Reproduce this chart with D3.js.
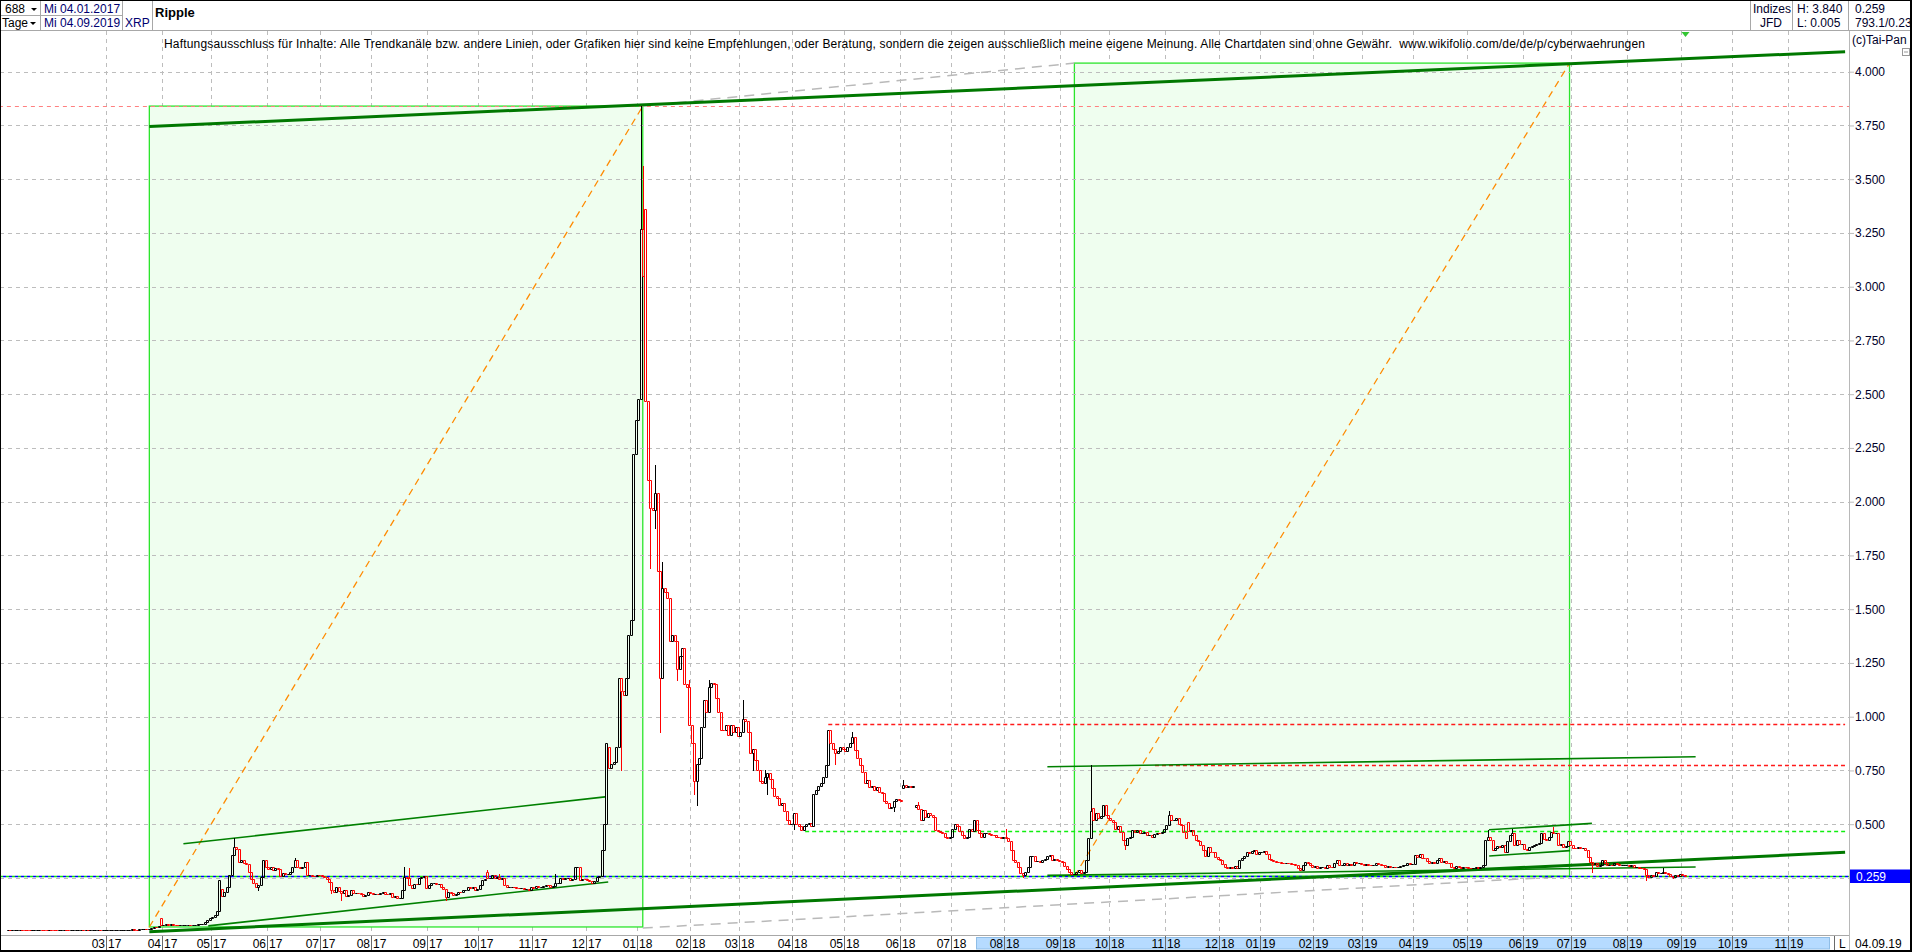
<!DOCTYPE html>
<html lang="de">
<head>
<meta charset="utf-8">
<title>Ripple XRP</title>
<script src="https://cdn.jsdelivr.net/npm/d3@7/dist/d3.min.js"></script>
<style>
html,body{margin:0;padding:0;background:#fff;overflow:hidden;}
svg{display:block;font-family:"Liberation Sans",Arial,Helvetica,sans-serif;}
text{white-space:pre;}
</style>
</head>
<body>
<svg id="chart" width="1912" height="952"></svg>
<script>
// ================= DATA =================
// daily closes, one per trading day from 04.01.2017 to 04.09.2019
const closes = [
// 2017-01
0.0064,0.0063,0.0063,0.0065,0.0066,0.0068,0.0067,0.0066,0.0065,0.0064,0.0065,0.0066,0.0068,0.0069,0.0068,0.0067,0.0066,0.0066,0.0065,0.0063,
// 2017-02
0.0062,0.0062,0.0063,0.0063,0.0062,0.0061,0.0061,0.0062,0.0063,0.0064,0.0064,0.0063,0.0063,0.0062,0.0062,0.0063,0.0063,0.0064,0.0063,0.0063,
// 2017-03
0.0064,0.0066,0.0068,0.0070,0.0072,0.0075,0.0076,0.0078,0.0085,0.0090,0.0095,0.0110,0.0100,0.0098,0.0105,0.0120,0.0130,0.0115,0.0140,0.0180,0.0230,0.0220,0.0280,
// 2017-04
0.031,0.033,0.034,0.033,0.034,0.033,0.032,0.031,0.032,0.032,0.033,0.033,0.032,0.032,0.033,0.034,0.035,0.038,0.045,0.055,
// 2017-05
0.062,0.070,0.078,0.098,0.240,0.165,0.185,0.210,0.263,0.357,0.395,0.385,0.326,0.335,0.320,0.315,0.279,0.243,0.225,0.210,0.215,0.256,0.333,
// 2017-06
0.300,0.290,0.300,0.288,0.294,0.292,0.259,0.275,0.268,0.270,0.280,0.300,0.333,0.302,0.295,0.300,0.326,0.263,0.265,0.260,0.259,0.265,
// 2017-07
0.263,0.259,0.255,0.245,0.233,0.194,0.186,0.210,0.190,0.178,0.194,0.166,0.170,0.194,0.178,0.180,0.178,0.175,0.166,0.170,0.186,
// 2017-08
0.178,0.176,0.177,0.175,0.180,0.183,0.177,0.176,0.178,0.163,0.165,0.155,0.158,0.194,0.256,0.250,0.217,0.202,0.222,0.220,0.248,0.255,0.260,
// 2017-09
0.202,0.215,0.225,0.225,0.222,0.224,0.206,0.200,0.163,0.186,0.180,0.171,0.175,0.186,0.185,0.194,0.195,0.206,0.205,0.206,0.194,
// 2017-10
0.200,0.217,0.240,0.245,0.248,0.250,0.263,0.248,0.255,0.243,0.250,0.217,0.209,0.210,0.210,0.208,0.205,0.202,0.203,0.197,0.198,0.196,
// 2017-11
0.209,0.205,0.212,0.210,0.210,0.212,0.217,0.215,0.210,0.212,0.225,0.228,0.248,0.245,0.248,0.250,0.240,0.245,0.300,0.300,0.240,0.245,
// 2017-12
0.243,0.240,0.235,0.228,0.235,0.256,0.260,0.380,0.500,0.880,0.760,0.780,0.790,0.860,1.180,1.120,1.100,1.180,1.380,1.450,2.220,
// 2018-01
2.38,2.48,3.27,3.05,2.47,2.10,1.97,1.96,2.04,1.68,1.18,1.60,1.58,1.55,1.35,1.38,1.35,1.22,1.28,1.32,1.15,1.14,
// 2018-02
0.96,0.88,0.70,0.78,0.81,0.95,1.08,1.02,1.14,1.155,1.15,1.085,1.02,0.94,0.938,0.96,0.915,0.96,0.93,0.95,
// 2018-03
0.91,0.93,0.99,0.98,0.93,0.83,0.85,0.80,0.75,0.70,0.69,0.72,0.737,0.71,0.67,0.63,0.62,0.59,0.597,0.56,0.52,0.50,
// 2018-04
0.50,0.55,0.50,0.49,0.474,0.49,0.50,0.505,0.49,0.64,0.66,0.68,0.69,0.72,0.776,0.94,0.88,0.85,0.83,0.84,0.86,
// 2018-05
0.85,0.84,0.86,0.88,0.907,0.845,0.81,0.776,0.745,0.69,0.706,0.675,0.68,0.66,0.675,0.65,0.644,0.61,0.60,0.574,0.582,0.61,0.615,
// 2018-06
0.613,0.61,0.683,0.675,0.68,0.675,0.68,0.59,0.57,0.52,0.567,0.535,0.55,0.545,0.535,0.473,0.47,0.465,0.458,0.442,0.435,
// 2018-07
0.44,0.48,0.50,0.49,0.47,0.45,0.435,0.44,0.48,0.47,0.52,0.474,0.46,0.442,0.458,0.46,0.455,0.45,0.448,0.442,0.44,0.435,
// 2018-08
0.44,0.438,0.42,0.38,0.334,0.326,0.30,0.272,0.264,0.28,0.303,0.35,0.352,0.33,0.33,0.326,0.334,0.34,0.35,0.357,0.334,0.336,0.334,
// 2018-09
0.33,0.326,0.305,0.29,0.28,0.268,0.27,0.28,0.287,0.272,0.28,0.334,0.434,0.56,0.52,0.55,0.53,0.536,0.59,0.543,
// 2018-10
0.527,0.52,0.512,0.48,0.49,0.465,0.427,0.403,0.434,0.44,0.473,0.466,0.473,0.457,0.46,0.465,0.45,0.452,0.442,0.455,0.46,0.458,0.465,
// 2018-11
0.48,0.497,0.543,0.52,0.52,0.527,0.50,0.497,0.465,0.435,0.47,0.473,0.45,0.427,0.42,0.403,0.38,0.35,0.396,0.372,0.37,0.349,
// 2018-12
0.34,0.333,0.315,0.30,0.295,0.30,0.298,0.306,0.295,0.333,0.345,0.35,0.372,0.365,0.375,0.38,0.362,
// 2019-01
0.37,0.372,0.375,0.36,0.34,0.333,0.33,0.325,0.322,0.32,0.318,0.32,0.318,0.316,0.315,0.31,0.295,0.287,0.31,0.326,0.318,0.31,
// 2019-02
0.30,0.305,0.296,0.30,0.302,0.298,0.31,0.302,0.30,0.318,0.333,0.31,0.312,0.318,0.31,0.315,0.31,0.326,0.318,0.32,
// 2019-03
0.314,0.31,0.315,0.312,0.31,0.312,0.318,0.315,0.31,0.308,0.30,0.305,0.30,0.303,0.30,0.302,0.306,0.31,0.312,0.318,0.315,
// 2019-04
0.315,0.357,0.349,0.36,0.345,0.341,0.33,0.318,0.325,0.32,0.334,0.341,0.326,0.33,0.32,0.318,0.30,0.295,0.305,0.30,0.295,0.303,
// 2019-05
0.30,0.298,0.295,0.297,0.30,0.298,0.303,0.31,0.427,0.44,0.427,0.38,0.39,0.40,0.396,0.403,0.372,0.42,0.45,0.457,0.403,0.427,0.41,
// 2019-06
0.41,0.385,0.38,0.395,0.40,0.404,0.41,0.412,0.457,0.43,0.427,0.44,0.465,0.457,0.46,0.403,0.41,0.396,0.40,0.42,
// 2019-07
0.403,0.39,0.388,0.395,0.388,0.39,0.38,0.349,0.326,0.315,0.318,0.305,0.31,0.333,0.318,0.31,0.312,0.308,0.32,0.314,0.308,0.31,0.31,
// 2019-08
0.312,0.305,0.31,0.30,0.302,0.298,0.296,0.29,0.262,0.256,0.262,0.258,0.279,0.272,0.275,0.279,0.272,0.268,0.258,0.256,0.262,0.258,
// 2019-09
0.267,0.262,0.259
];
// opens that gap away from the previous close: [bar, open]
const gapOpens = [[63,0.062],[88,0.20],[197,0.276],[247,0.86],[262,3.36],[368,0.667],[373,0.58],[446,0.575],[485,0.511]];
// visible upper / lower shadows: [bar, price]
const wickHighs = [[63,0.065],[93,0.437],[118,0.341],[163,0.30],[165,0.295],[197,0.285],[202,0.268],[225,0.268],[260,3.84],[261,3.56],[262,3.36],[266,2.17],[269,1.72],[280,1.17],[288,1.17],[302,1.08],[311,0.752],[347,0.93],[368,0.706],[374,0.605],[410,0.48],[445,0.776],[477,0.561],[608,0.473],[618,0.476],[635,0.488],[680,0.295]];
const wickLows = [[103,0.194],[133,0.18],[137,0.147],[180,0.147],[252,0.75],[264,1.69],[266,1.88],[268,0.93],[275,1.17],[282,0.64],[283,0.59],[306,0.75],[312,0.64],[323,0.48],[340,0.78],[364,0.56],[417,0.256],[459,0.383],[651,0.28],[673,0.24],[684,0.248]];

const yTicks = [0.25,0.5,0.75,1,1.25,1.5,1.75,2,2.25,2.5,2.75,3,3.25,3.5,3.75,4];
const firstDay = "2017-01-04";
const lastAxisDay = "2019-11-29";
const holidays = ["2018-01-01","2018-12-24","2018-12-25","2018-12-26","2018-12-31","2019-01-01"];
const highValue = 3.84, lowValue = 0.005, lastPrice = 0.259;

// drawn annotations, in (bar index, price)
const boxes = [
  {i0:57.8, i1:260.5, p0:0.022, p1:3.84},
  {i0:437.8, i1:641.2, p0:0.258, p1:4.04}
];
const connectors = [
  {i0:260.5, p0:3.84, i1:437.8, p1:4.04},
  {i0:260.5, p0:0.017, i1:641.2, p1:0.258}
];
const thickTrends = [
  {i0:57.8, p0:3.745, i1:754.4, p1:4.093},
  {i0:57.8, p0:0.0, i1:754.4, p1:0.369}
];
const thinTrends = [
  {i0:71.8, p0:0.409, i1:245, p1:0.627},
  {i0:82, p0:0.027, i1:246.3, p1:0.231},
  {i0:426.7, p0:0.767, i1:693, p1:0.814},
  {i0:426.7, p0:0.262, i1:693, p1:0.301},
  {i0:608.1, p0:0.474, i1:650.4, p1:0.504},
  {i0:608.2, p0:0.352, i1:641.4, p1:0.377}
];
const levels = [
  {p:3.84, i0:-4, i1:756, kind:"high"},
  {p:0.965, i0:336.7, i1:754.4, kind:"res"},
  {p:0.775, i0:470.9, i1:754.4, kind:"res"},
  {p:0.47, i0:327.2, i1:754.4, kind:"sup"}
];
const disclaimer = "Haftungsausschluss für Inhalte: Alle Trendkanäle bzw. andere Linien, oder Grafiken hier sind keine Empfehlungen, oder Beratung, sondern die zeigen ausschließlich meine eigene Meinung. Alle Chartdaten sind ohne Gewähr.  www.wikifolio.com/de/de/p/cyberwaehrungen";

// ================= LAYOUT =================
const W = 1912, H = 952;
const P = {left:0, right:1849, top:31, bottom:935};
const svg = d3.select("#chart");

const parse = d3.utcParse("%Y-%m-%d"), fmt = d3.utcFormat("%Y-%m-%d");
const hol = new Set(holidays);
const days = d3.utcDays(parse(firstDay), d3.utcDay.offset(parse(lastAxisDay),1))
  .filter(d => { const w = d.getUTCDay(); return w !== 0 && w !== 6 && !hol.has(fmt(d)); });

const x = d3.scaleLinear().domain([0, 756]).range([8.63, 1849]);
const y = d3.scaleLinear().domain([0, 4]).range([931.7, 71.7]);

const monthTicks = [];
days.forEach((d,i) => {
  if (i > 0 && d.getUTCMonth() !== days[i-1].getUTCMonth() && d >= parse("2017-03-01")) monthTicks.push({i, d});
});

const defs = svg.append("defs");
defs.append("clipPath").attr("id","plotclip").append("rect")
  .attr("x",P.left).attr("y",P.top).attr("width",P.right-P.left).attr("height",P.bottom-P.top);

svg.append("rect").attr("width",W).attr("height",H).attr("fill","#fff");

const plot = svg.append("g").attr("clip-path","url(#plotclip)");

// vertical grid
plot.append("g").selectAll("line").data(monthTicks).join("line")
  .attr("x1", t => Math.round(x(t.i))+0.5).attr("x2", t => Math.round(x(t.i))+0.5)
  .attr("y1", P.top).attr("y2", P.bottom)
  .attr("stroke","#bdbdbd").attr("stroke-dasharray","4,4");

// boxes
plot.append("g").selectAll("rect").data(boxes).join("rect")
  .attr("x", b => x(b.i0)).attr("y", b => y(b.p1))
  .attr("width", b => x(b.i1)-x(b.i0)).attr("height", b => y(b.p0)-y(b.p1))
  .attr("fill","#effeef").attr("stroke","#2be52b").attr("stroke-width",1.3);

// horizontal grid
plot.append("g").selectAll("line").data(yTicks).join("line")
  .attr("x1", P.left).attr("x2", P.right)
  .attr("y1", v => Math.round(y(v))+0.5).attr("y2", v => Math.round(y(v))+0.5)
  .attr("stroke","#bdbdbd").attr("stroke-dasharray","4,4");

const seg = (g, data) => g.selectAll("line").data(data).join("line")
  .attr("x1", s => x(s.i0)).attr("y1", s => y(s.p0)).attr("x2", s => x(s.i1)).attr("y2", s => y(s.p1));

// connectors (grey long dashes)
seg(plot.append("g"), connectors).attr("stroke","#b9b9b9").attr("stroke-width",1.5).attr("stroke-dasharray","10,7");
// diagonals of the boxes (orange dashed)
seg(plot.append("g"), boxes.map(b => ({i0:b.i0, p0:b.p0, i1:b.i1, p1:b.p1})))
  .attr("stroke","#ff8a00").attr("stroke-width",1.3).attr("stroke-dasharray","7,5");

// horizontal levels
const lv = plot.append("g");
lv.selectAll("line").data(levels).join("line")
  .attr("x1", l => x(l.i0)).attr("x2", l => x(l.i1))
  .attr("y1", l => Math.round(y(l.p))+0.5).attr("y2", l => Math.round(y(l.p))+0.5)
  .attr("stroke", l => l.kind==="high" ? "#ff8080" : l.kind==="res" ? "#ff1a1a" : "#10ee10")
  .attr("stroke-width", l => l.kind==="high" ? 1 : 1.4)
  .attr("stroke-dasharray", l => l.kind==="high" ? "4,4" : "4,3");
// last price line (green / blue alternating)
const lpY = Math.round(y(lastPrice))+0.5;
lv.append("line").attr("x1",P.left).attr("x2",P.right).attr("y1",lpY).attr("y2",lpY)
  .attr("stroke","#10e010").attr("stroke-width",1.4).attr("stroke-dasharray","3,3");
lv.append("line").attr("x1",P.left+3).attr("x2",P.right).attr("y1",lpY).attr("y2",lpY)
  .attr("stroke","#0000ff").attr("stroke-width",1.4).attr("stroke-dasharray","3,3");

// trend lines
seg(plot.append("g"), thinTrends).attr("stroke","#008000").attr("stroke-width",1.6);
seg(plot.append("g"), thickTrends).attr("stroke","#007800").attr("stroke-width",3);

// candles
const gapMap = new Map(gapOpens), hiMap = new Map(wickHighs), loMap = new Map(wickLows);
const bars = closes.map((c,i) => {
  let o = i === 0 ? c : closes[i-1];
  if (gapMap.has(i)) o = gapMap.get(i);
  let h = Math.max(o,c), l = Math.min(o,c);
  if (hiMap.has(i)) h = Math.max(h, hiMap.get(i));
  if (loMap.has(i)) l = Math.min(l, loMap.get(i));
  return {i, o, h, l, c, up: c >= o};
});
const cg = plot.append("g").attr("fill","none");
cg.selectAll("path.w").data(bars).join("path").attr("class","w")
  .attr("stroke", b => b.up ? "#000" : "#ff0000").attr("stroke-width",1)
  .attr("d", b => {
    const cx = Math.round(x(b.i)) - 0.5;
    const yt = Math.round(y(Math.max(b.o,b.c))), yb = Math.round(y(Math.min(b.o,b.c)));
    const yh = Math.round(y(b.h)), yl = Math.round(y(b.l));
    let p = "";
    if (yh < yt) p += `M${cx},${yh}V${yt}`;
    if (yl > yb) p += `M${cx},${yb+1}V${yl+1}`;
    return p || null;
  });
cg.selectAll("path.b").data(bars).join("path").attr("class","b")
  .attr("stroke", b => b.up ? "#000" : "#ff0000").attr("stroke-width",1)
  .attr("d", b => {
    const cx = Math.round(x(b.i));
    const yt = Math.round(y(Math.max(b.o,b.c))) + 0.5, yb = Math.round(y(Math.min(b.o,b.c))) + 0.5;
    return `M${cx-1.5},${yt}H${cx+0.5}V${yb}H${cx-1.5}Z`;
  });

// marker for the current bar at the top
const lastX = Math.round(x(closes.length-1)) - 0.5;
svg.append("path").attr("d",`M${lastX-4},${P.top+1}H${lastX+4}L${lastX},${P.top+6}Z`).attr("fill","#33c633");

// disclaimer
svg.append("text").attr("x",164).attr("y",48).attr("font-size",12).attr("fill","#000")
  .attr("textLength",1481).attr("lengthAdjust","spacing").text(disclaimer);

// ================= AXES =================
// y axis on the right
const yAxis = d3.axisRight(y).tickValues(yTicks).tickFormat(d3.format(".3f")).tickSize(5).tickPadding(1);
const ya = svg.append("g").attr("transform",`translate(${P.right},0)`).call(yAxis);
ya.select(".domain").remove();
ya.selectAll(".tick line").attr("stroke","#bdbdbd");
ya.selectAll(".tick text").attr("font-size",12).attr("fill","#00002a").attr("font-family","Liberation Sans, Arial, sans-serif");
svg.append("line").attr("x1",P.right+0.5).attr("x2",P.right+0.5).attr("y1",P.top).attr("y2",H)
  .attr("stroke","#b8b8b8");

// last price tag
svg.append("rect").attr("x",P.right+1).attr("y",Math.round(y(lastPrice))-6.5).attr("width",W-P.right-1).attr("height",13.5).attr("fill","#0000ff");
svg.append("text").attr("x",P.right+7).attr("y",Math.round(y(lastPrice))+4.5).attr("font-size",12).attr("fill","#fff").text(d3.format(".3f")(lastPrice));

// x axis strip
const xa = svg.append("g");
xa.append("line").attr("x1",0).attr("x2",P.right).attr("y1",P.bottom+0.5).attr("y2",P.bottom+0.5).attr("stroke","#a8a8a8");
xa.append("rect").attr("x",976.5).attr("y",937.5).attr("width",853).attr("height",11.5)
  .attr("fill","#b6dbff").attr("stroke","#8fbde6");
const mt = xa.selectAll("g").data(monthTicks).join("g")
  .attr("transform", t => `translate(${Math.round(x(t.i))+0.5},0)`);
mt.append("line").attr("y1",P.bottom+1).attr("y2",H-2).attr("stroke","#6a6a6a");
mt.append("text").attr("x",-1.5).attr("y",948).attr("text-anchor","end").attr("font-size",12).attr("fill","#000")
  .text(t => d3.utcFormat("%m")(t.d));
mt.append("text").attr("x",1.5).attr("y",948).attr("font-size",12).attr("fill","#000")
  .text(t => d3.utcFormat("%y")(t.d));
xa.append("line").attr("x1",1834.5).attr("x2",1834.5).attr("y1",P.bottom+1).attr("y2",H-2).attr("stroke","#6a6a6a");
xa.append("text").attr("x",1839).attr("y",948).attr("font-size",12).text("L");
xa.append("text").attr("x",1855).attr("y",948).attr("font-size",12).text(d3.utcFormat("%d.%m.%y")(days[closes.length-1]));

// ================= HEADER =================
const hd = svg.append("g");
const hl = (x1,y1,x2,y2,c) => hd.append("line").attr("x1",x1).attr("y1",y1).attr("x2",x2).attr("y2",y2).attr("stroke",c||"#a8a8a8");
hl(0,30.5,W,30.5);
hl(0,15.5,122,15.5);
hl(40.5,0,40.5,30); hl(122.5,0,122.5,30); hl(152.5,0,152.5,30);
hl(1750.5,0,1750.5,30); hl(1792.5,0,1792.5,30); hl(1848.5,0,1848.5,30);
const ht = (tx,ty,s,opt={}) => hd.append("text").attr("x",tx).attr("y",ty).attr("font-size",opt.size||12)
  .attr("font-weight",opt.bold?"bold":null).attr("fill",opt.fill||"#000").attr("text-anchor",opt.anchor||null).text(s);
ht(5,13,"688"); ht(2,27,"Tage");
hd.append("path").attr("d","M31,8H37L34,11Z").attr("fill","#000");
hd.append("path").attr("d","M30,22H36L33,25Z").attr("fill","#000");
ht(44,13,"Mi " + d3.utcFormat("%d.%m.%Y")(days[0]),{fill:"#000070"});
ht(44,27,"Mi " + d3.utcFormat("%d.%m.%Y")(days[closes.length-1]),{fill:"#000070"});
ht(125,27,"XRP",{fill:"#000070"});
ht(155,17,"Ripple",{bold:true,size:13});
ht(1753,13,"Indizes",{fill:"#00002a"}); ht(1771,27,"JFD",{anchor:"middle",fill:"#00002a"});
ht(1797,13,"H: " + d3.format(".3f")(highValue),{fill:"#00002a"});
ht(1797,27,"L: " + d3.format(".3f")(lowValue),{fill:"#00002a"});
ht(1855,13,d3.format(".3f")(lastPrice),{fill:"#00002a"});
ht(1855,27,"793.1/0.23",{fill:"#00002a"});
ht(1852,44,"(c)Tai-Pan",{fill:"#00002a"});
hd.append("rect").attr("x",1902.5).attr("y",48.5).attr("width",7).attr("height",7).attr("fill","none").attr("stroke","#999");
hd.append("line").attr("x1",1904).attr("x2",1908).attr("y1",52).attr("y2",52).attr("stroke","#999");

// outer frame
svg.append("rect").attr("x",0.5).attr("y",0.5).attr("width",W-2).attr("height",H-1.5).attr("fill","none").attr("stroke","#000");
svg.append("line").attr("x1",W-1).attr("x2",W-1).attr("y1",0).attr("y2",H).attr("stroke","#000").attr("stroke-width",2);
svg.append("line").attr("x1",0).attr("x2",W).attr("y1",H-1).attr("y2",H-1).attr("stroke","#000").attr("stroke-width",2);
</script>
</body>
</html>
